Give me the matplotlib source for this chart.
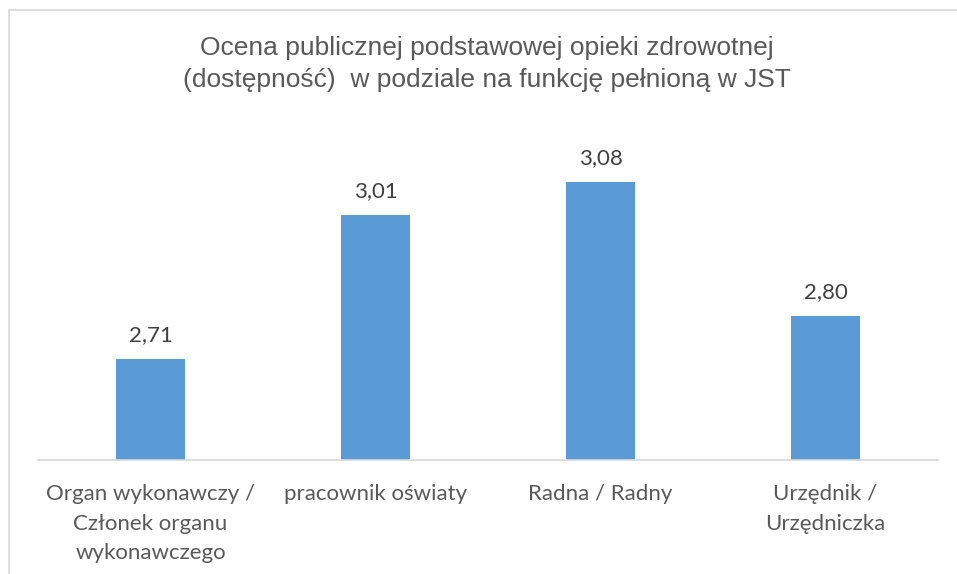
import matplotlib.pyplot as plt
from matplotlib.patches import Rectangle

# dane z wykresu
kategorie = ['Organ wykonawczy /\nCzłonek organu\nwykonawczego',
             'pracownik oświaty',
             'Radna / Radny',
             'Urzędnik /\nUrzędniczka']
oceny = [2.71, 3.01, 3.08, 2.80]
etykiety = ['2,71', '3,01', '3,08', '2,80']
tytul = 'Ocena publicznej podstawowej opieki zdrowotnej\n(dostępność)  w podziale na funkcję pełnioną w JST'

szary = '#595959'
niebieski = '#5B9BD5'

fig = plt.figure(figsize=(9.57, 5.74), dpi=100)
ax = fig.add_axes([38 / 957, 1 - 460 / 574, 900 / 957, 336 / 574])

x = list(range(len(kategorie)))
ax.bar(x, oceny, width=0.311, color=niebieski, bottom=0)
ax.set_xlim(-0.5, 3.5)
ax.set_ylim(2.5, 3.2)

for xi, v, e in zip(x, oceny, etykiety):
    ax.annotate(e, (xi, v), xytext=(0, 10), textcoords='offset points',
                ha='center', va='bottom', fontsize=16, color='#404040',
                family=['Lato', 'DejaVu Sans'])

ax.set_xticks(x)
ax.set_xticklabels(kategorie, fontsize=16, color=szary, linespacing=1.62,
                   family=['Lato', 'DejaVu Sans'])
ax.tick_params(axis='x', length=0, pad=17)
ax.set_yticks([])
for s in ['top', 'right', 'left']:
    ax.spines[s].set_visible(False)
ax.spines['bottom'].set_color('#D9D9D9')
ax.spines['bottom'].set_linewidth(1.2)

fig.text(487 / 957, 1 - 64 / 574, tytul, ha='center', va='center',
         fontsize=19, color=szary, linespacing=1.45,
         family=['Liberation Sans', 'DejaVu Sans'])

# ramka wykresu
fig.patches.append(Rectangle((9 / 957, -0.1), 1.2, 1 - 10 / 574 + 0.1,
                             transform=fig.transFigure, fill=False,
                             edgecolor='#D9D9D9', linewidth=1.2))

fig.savefig('out.png', dpi=100)
